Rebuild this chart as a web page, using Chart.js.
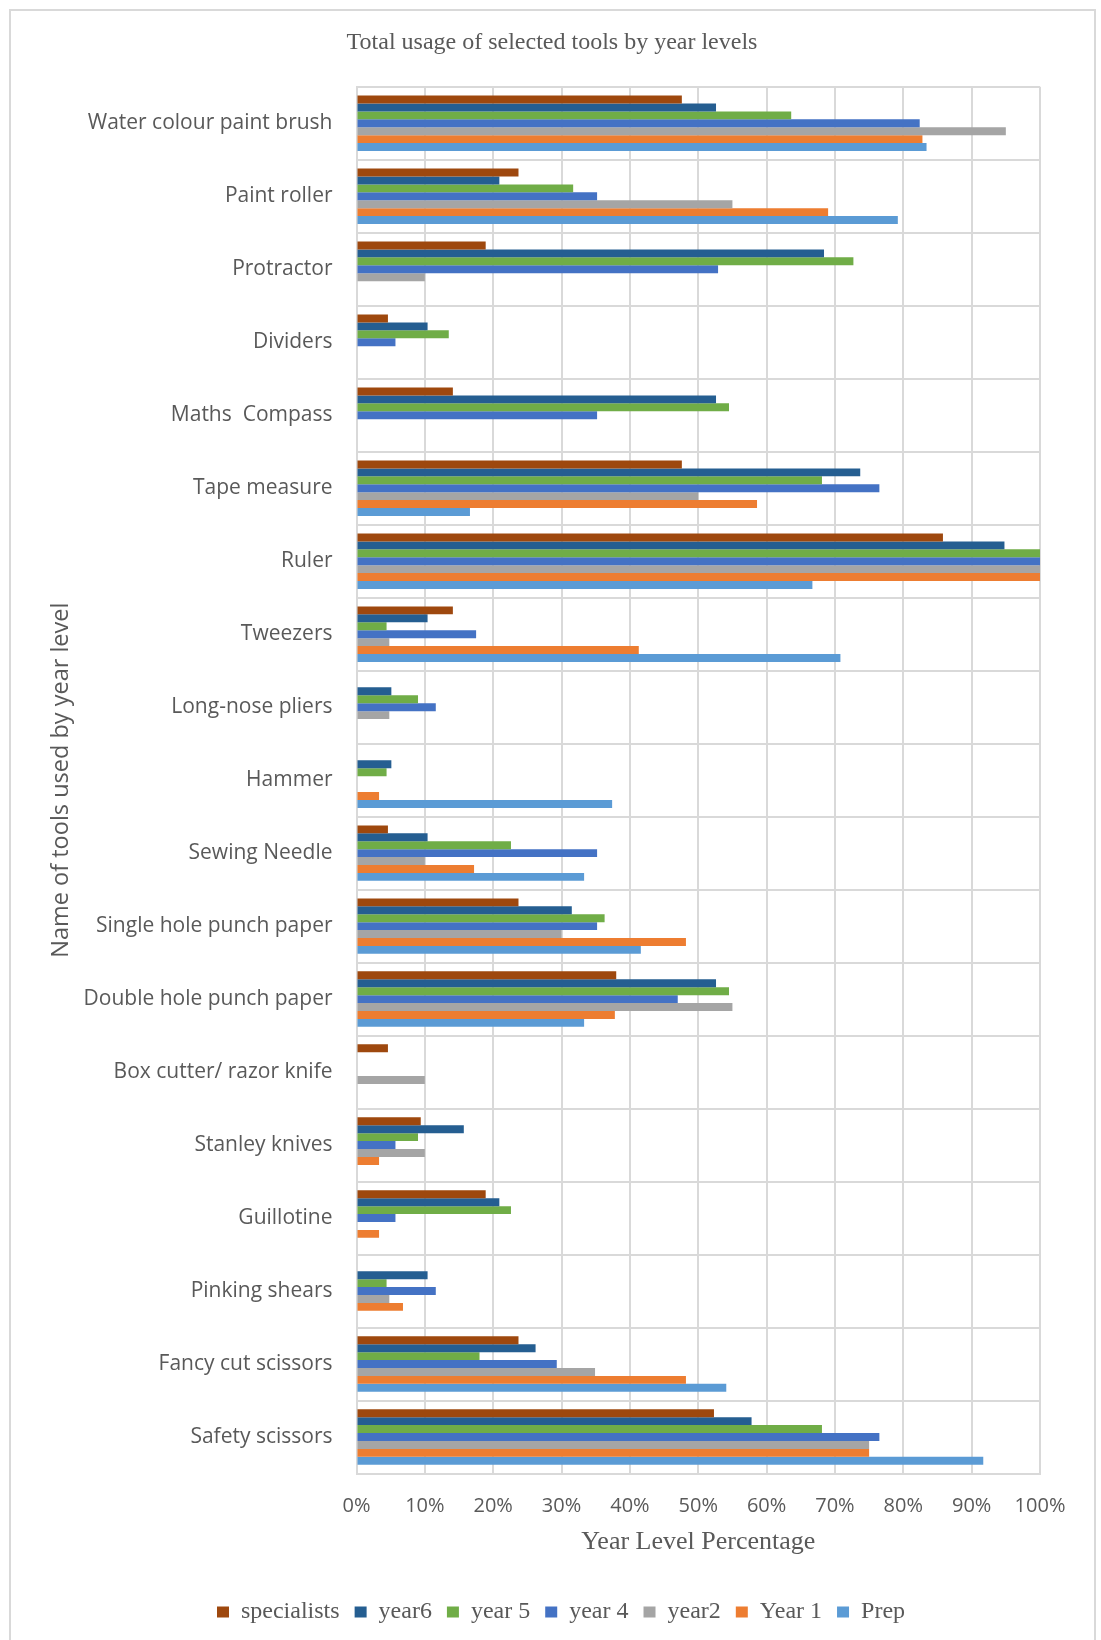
<!DOCTYPE html>
<html>
<head>
<meta charset="utf-8">
<script src="https://cdn.jsdelivr.net/npm/chart.js@4.4.1/dist/chart.umd.min.js"></script>
<style>
  html, body { margin: 0; padding: 0; background: #ffffff; }
  #wrap { position: relative; width: 1101px; height: 1640px; }
  canvas { display: block; }
</style>
</head>
<body>
<div id="wrap"><canvas id="c" width="1101" height="1640"></canvas></div>
<script>
const categories = [
  "Water colour paint brush", "Paint roller", "Protractor", "Dividers", "Maths  Compass",
  "Tape measure", "Ruler", "Tweezers", "Long-nose pliers", "Hammer", "Sewing Needle",
  "Single hole punch paper", "Double hole punch paper", "Box cutter/ razor knife",
  "Stanley knives", "Guillotine", "Pinking shears", "Fancy cut scissors", "Safety scissors"
];
const seriesNames = ["specialists", "year6", "year 5", "year 4", "year2", "Year 1", "Prep"];
const specialists = [47.6, 23.7, 18.9, 4.6, 14.1, 47.6, 85.8, 14.1, 0, 0, 4.6, 23.7, 38.0, 4.6, 9.4, 18.9, 0, 23.7, 52.3];
const year6       = [52.6, 20.9, 68.4, 10.4, 52.6, 73.7, 94.8, 10.4, 5.1, 5.1, 10.4, 31.5, 52.6, 0, 15.7, 20.9, 10.4, 26.2, 57.8];
const year5       = [63.6, 31.7, 72.7, 13.5, 54.5, 68.1, 100, 4.4, 9.0, 4.4, 22.6, 36.3, 54.5, 0, 9.0, 22.6, 4.4, 18.0, 68.1];
const year4       = [82.4, 35.2, 52.9, 5.7, 35.2, 76.5, 100, 17.5, 11.6, 0, 35.2, 35.2, 47.0, 0, 5.7, 5.7, 11.6, 29.3, 76.5];
const year2       = [95.0, 55.0, 10.0, 0, 0, 50.0, 100, 4.8, 4.8, 0, 10.0, 30.0, 55.0, 10.0, 10.0, 0, 4.8, 34.9, 75.0];
const year1       = [82.8, 69.0, 0, 0, 0, 58.6, 100, 41.3, 0, 3.3, 17.2, 48.2, 37.8, 0, 3.3, 3.3, 6.8, 48.2, 75.0];
const prep        = [83.4, 79.2, 0, 0, 0, 16.6, 66.7, 70.8, 0, 37.4, 33.3, 41.6, 33.3, 0, 0, 0, 0, 54.1, 91.7];
const xTicks = [0, 10, 20, 30, 40, 50, 60, 70, 80, 90, 100];

const seriesValues = [specialists, year6, year5, year4, year2, year1, prep];
const colors = ["#9E480E", "#255E91", "#70AD47", "#4472C4", "#A5A5A5", "#ED7D31", "#5B9BD5"];

const gridColor = "#d9d9d9";
const textColor = "#595959";

const frame = {
  id: "frame",
  beforeDraw(chart) {
    const ctx = chart.ctx;
    ctx.save();
    ctx.fillStyle = "#ffffff";
    ctx.fillRect(0, 0, chart.width, chart.height);
    ctx.strokeStyle = gridColor;
    ctx.lineWidth = 2;
    ctx.strokeRect(10, 10, 1085, 1640);
    ctx.restore();
  },
  afterLayout(chart) {
    if (chart.legend) {
      chart.legend.left += 9;
      chart.legend.right += 9;
    }
  }
};

new Chart(document.getElementById("c"), {
  type: "bar",
  data: {
    labels: categories,
    datasets: seriesNames.map((n, i) => ({
      label: n,
      data: seriesValues[i],
      backgroundColor: colors[i],
      borderWidth: 0,
      categoryPercentage: 0.76,
      barPercentage: 1.0
    }))
  },
  options: {
    indexAxis: "y",
    responsive: false,
    animation: false,
    devicePixelRatio: 1,
    layout: { padding: { left: 64, right: 61, top: 0, bottom: 6 } },
    plugins: {
      title: {
        display: true,
        text: "Total usage of selected tools by year levels",
        color: textColor,
        font: { family: "Liberation Serif", size: 24, weight: "normal" },
        padding: { top: 28, bottom: 30 }
      },
      legend: {
        position: "bottom",
        labels: {
          color: textColor,
          boxWidth: 12,
          boxHeight: 11,
          padding: 15,
          font: { family: "Liberation Serif", size: 24 }
        }
      },
      tooltip: { enabled: false }
    },
    scales: {
      x: {
        min: 0,
        max: 100,
        afterBuildTicks: (s) => { s.ticks = xTicks.map(v => ({ value: v })); },
        ticks: {
          callback: (v) => v + "%",
          color: textColor,
          font: { family: "Open Sans", size: 20 },
          padding: 21,
          maxRotation: 0
        },
        grid: { color: gridColor, lineWidth: 2, drawTicks: false },
        border: { color: gridColor, width: 2 },
        title: {
          display: true,
          text: "Year Level Percentage",
          color: textColor,
          font: { family: "Liberation Serif", size: 26 },
          padding: { top: 0, bottom: 27 }
        },
        afterFit: (s) => { s.height = 111.5; }
      },
      y: {
        ticks: {
          color: textColor,
          font: { family: "Open Sans", size: 21 },
          padding: 24,
          autoSkip: false
        },
        grid: { color: gridColor, lineWidth: 2, drawTicks: false, offset: true },
        border: { color: gridColor, width: 2 },
        title: {
          display: true,
          text: "Name of tools used by year level",
          color: textColor,
          font: { family: "Open Sans", size: 23.5 },
          padding: { top: -17, bottom: 0 }
        },
        afterFit: (s) => { s.width = 292.5; }
      }
    }
  },
  plugins: [frame]
});
</script>
</body>
</html>
